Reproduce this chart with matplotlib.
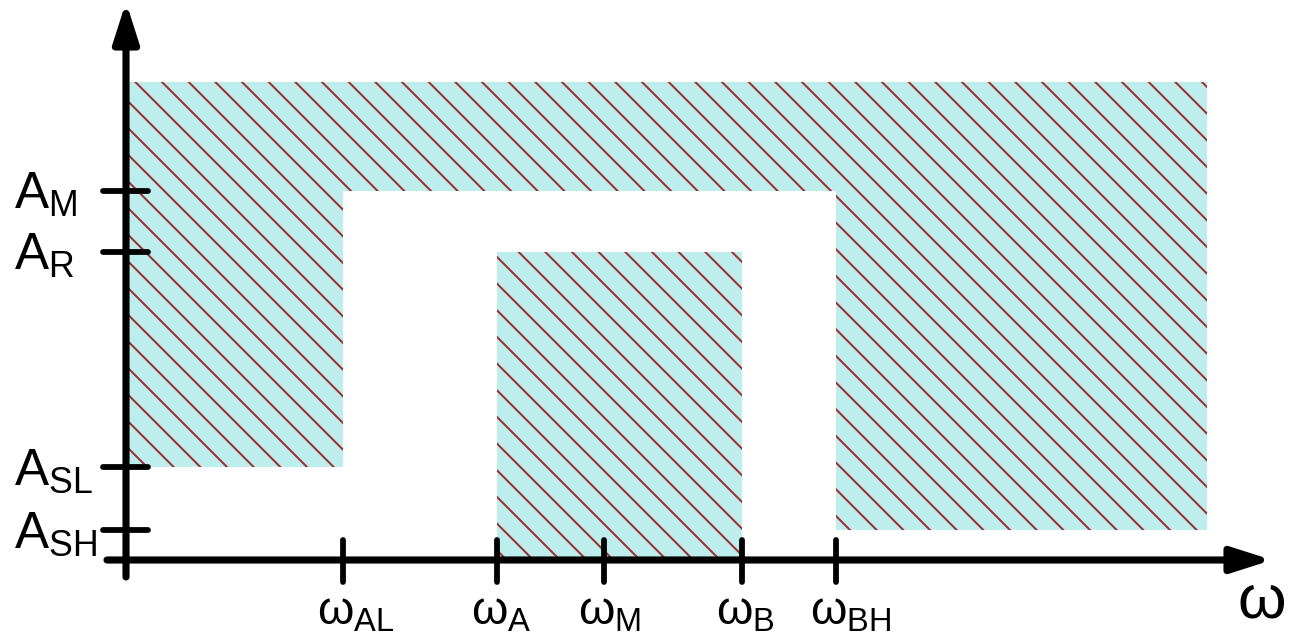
import matplotlib.pyplot as plt

plt.rcParams['font.family'] = ['Liberation Sans', 'DejaVu Sans']
plt.rcParams['hatch.linewidth'] = 0.9

# frequency marks along the horizontal axis
w_names = ["AL", "A", "M", "B", "BH"]
w_values = [217, 371, 478, 616, 710]
w_end = 1081

# amplitude marks along the vertical axis
a_names = ["M", "R", "SL", "SH"]
a_values = [369, 308, 93, 30]
a_top = 478

w_AL, w_A, w_M, w_B, w_BH = w_values
A_M, A_R, A_SL, A_SH = a_values

fill_color = "#bdeeed"
hatch_color = "#9c3030"

fig = plt.figure(figsize=(1289 / 160, 636 / 160), dpi=160)
ax = fig.add_axes([0, 0, 1, 1])
ax.set_xlim(-126, 1163)
ax.set_ylim(-76, 560)
ax.axis("off")

# outer forbidden region (stepped)
outer_x = [0, w_AL, w_AL, w_BH, w_BH, w_end, w_end, 0]
outer_y = [A_SL, A_SL, A_M, A_M, A_SH, A_SH, a_top, a_top]
ax.fill(outer_x, outer_y, facecolor=fill_color, edgecolor=hatch_color,
        hatch="\\\\", linewidth=0)

# inner forbidden block
ax.fill([w_A, w_B, w_B, w_A], [0, 0, A_R, A_R], facecolor=fill_color,
        edgecolor=hatch_color, hatch="\\\\", linewidth=0)

# axes with arrows
arrow = dict(arrowstyle="-|>,head_length=0.75,head_width=0.24", lw=3.2,
             color="black", shrinkA=0, shrinkB=0, mutation_scale=20)
ax.annotate("", xy=(0, 558), xytext=(0, -17), arrowprops=arrow)
ax.annotate("", xy=(1146, 0), xytext=(-19, 0), arrowprops=arrow)

# ticks
ax.hlines(a_values, -23, 22, color="black", lw=2.6, capstyle="round")
ax.vlines(w_values, -22, 20, color="black", lw=2.6, capstyle="round")

for name, v in zip(a_names, a_values):
    ax.text(-112, v - 4, r"$\mathregular{A_{%s}}$" % name, ha="left",
            va="center", fontsize=23)

for name, v in zip(w_names, w_values):
    ax.text(v - 26, -30, r"$\mathregular{\omega_{%s}}$" % name, ha="left",
            va="top", fontsize=21)

ax.text(1135, -14, r"$\mathregular{\omega}$", ha="center", va="top",
        fontsize=28)

fig.savefig("out.png", dpi=160)
